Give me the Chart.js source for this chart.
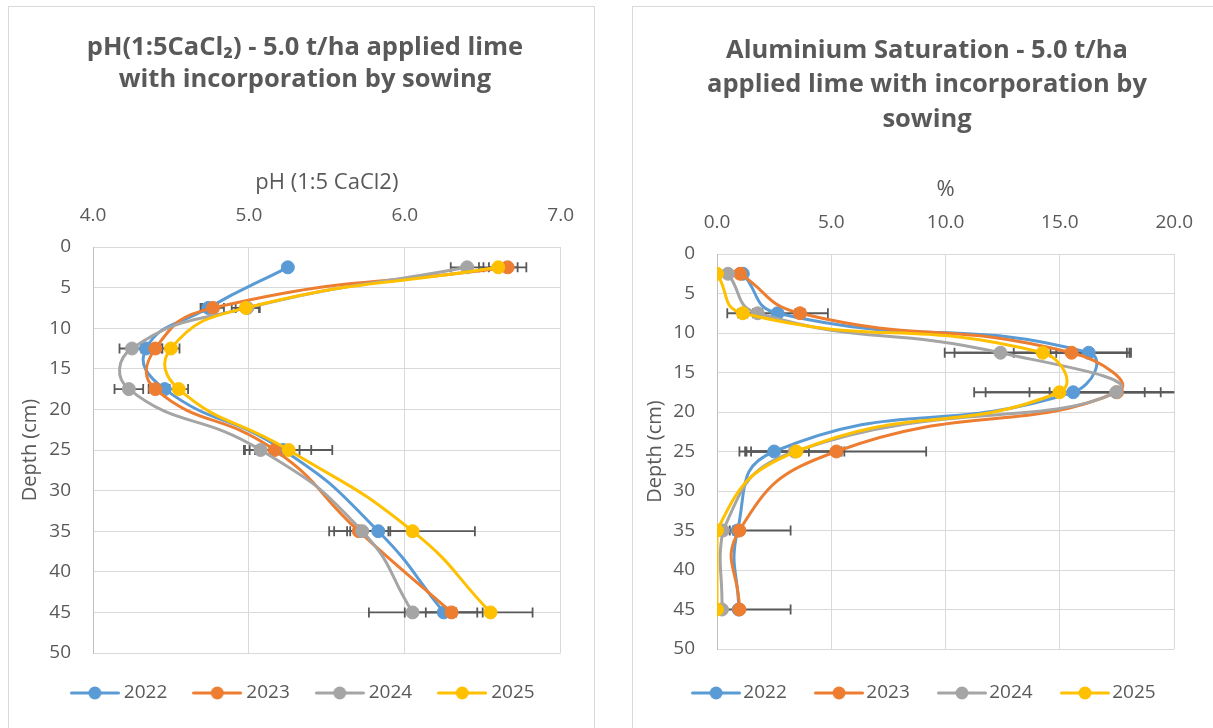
<!DOCTYPE html>
<html><head><meta charset="utf-8">
<script src="https://cdn.jsdelivr.net/npm/chart.js@4.4.1/dist/chart.umd.min.js"></script>
<style>
html,body{margin:0;padding:0;background:#fff;overflow:hidden;width:1213px;height:728px;}
.panel{position:absolute;border:1px solid #d9d9d9;box-sizing:border-box;}
canvas{position:absolute;}
</style></head><body>
<div class="panel" style="left:8px;top:6px;width:587px;height:740px"></div>
<div class="panel" style="left:632px;top:6px;width:600px;height:740px"></div>
<canvas id="c1" width="585" height="721" style="left:9px;top:7px"></canvas>
<canvas id="c2" width="580" height="721" style="left:633px;top:7px"></canvas>
<script>
// ---- data ----
const years = ['2022', '2023', '2024', '2025'];
const depths = [2.5, 7.5, 12.5, 17.5, 25, 35, 45];

const ph2022 = [5.25, 4.74, 4.34, 4.46, 5.22, 5.83, 6.25];
const ph2023 = [6.66, 4.77, 4.40, 4.40, 5.165, 5.705, 6.30];
const ph2024 = [6.40, 4.99, 4.25, 4.23, 5.075, 5.727, 6.05];
const ph2025 = [6.60, 4.98, 4.50, 4.55, 5.255, 6.05, 6.55];

const phErr2022 = [0, 0.05, 0.03, 0.03, 0.18, 0.20, 0.25];
const phErr2023 = [0.12, 0.07, 0.04, 0.043, 0.16, 0.19, 0.165];
const phErr2024 = [0.105, 0.075, 0.08, 0.092, 0.107, 0.18, 0.28];
const phErr2025 = [0.124, 0.09, 0.055, 0.06, 0.28, 0.40, 0.27];

const al2022 = [1.13, 2.65, 16.26, 15.58, 2.50, 0.90, 0.95];
const al2023 = [1.01, 3.63, 15.51, 17.50, 5.22, 0.98, 0.98];
const al2024 = [0.48, 1.78, 12.40, 17.46, 3.40, 0.26, 0.22];
const al2025 = [0.00, 1.13, 14.25, 14.98, 3.47, 0.00, 0.00];

const alErr2022 = [0, 2.2, 1.67, 3.83, 1.52, 0.2, 0.1];
const alErr2023 = [0, 0.2, 2.53, 2.95, 3.93, 2.24, 2.24];
const alErr2024 = [0, 0.2, 2.44, 3.79, 2.17, 0.3, 0.1];
const alErr2025 = [0, 0.2, 3.86, 3.73, 1.98, 0, 0];

const phTicks = [4, 5, 6, 7];
const alTicks = [0, 5, 10, 15, 20];
const depthTicks = [0, 5, 10, 15, 20, 25, 30, 35, 40, 45, 50];

const colors = ['#5B9BD5', '#ED7D31', '#A5A5A5', '#FFC000'];
const FONT = "'Open Sans', sans-serif";
const TXT = '#595959';

function legendIcon(color) {
  const c = document.createElement('canvas');
  c.width = 50; c.height = 14;
  const g = c.getContext('2d');
  g.strokeStyle = color; g.lineWidth = 3; g.lineCap = 'round';
  g.beginPath(); g.moveTo(1.5, 7); g.lineTo(48.5, 7); g.stroke();
  g.fillStyle = color; g.beginPath(); g.arc(25, 7, 6.5, 0, Math.PI * 2); g.fill();
  return c;
}
const icons = colors.map(legendIcon);

const errorBars = {
  id: 'errorBars',
  beforeDatasetsDraw(chart) {
    const ctx = chart.ctx, xs = chart.scales.x, ys = chart.scales.y, a = chart.chartArea;
    ctx.save();
    ctx.beginPath(); ctx.rect(a.left, a.top, a.right - a.left, a.bottom - a.top); ctx.clip();
    ctx.strokeStyle = '#595959'; ctx.lineWidth = 1.8;
    chart.data.datasets.forEach((ds) => {
      ds.errors.forEach((e, i) => {
        if (!e) return;
        const v = ds.data[i];
        const y = ys.getPixelForValue(v.y);
        const x1 = xs.getPixelForValue(v.x - e), x2 = xs.getPixelForValue(v.x + e);
        ctx.beginPath();
        ctx.moveTo(x1, y); ctx.lineTo(x2, y);
        ctx.moveTo(x1, y - 5); ctx.lineTo(x1, y + 5);
        ctx.moveTo(x2, y - 5); ctx.lineTo(x2, y + 5);
        ctx.stroke();
      });
    });
    ctx.restore();
  }
};

function makeChart(id, cfg) {
  const datasets = cfg.series.map((vals, i) => ({
    label: years[i],
    data: vals.map((v, j) => ({ x: v, y: depths[j] })),
    errors: cfg.errors[i],
    showLine: true,
    borderColor: colors[i],
    backgroundColor: colors[i],
    pointBackgroundColor: colors[i],
    pointBorderColor: colors[i],
    borderWidth: 3,
    pointRadius: 6.5,
    pointBorderWidth: 1,
    tension: 0.5,
    order: 3 - i
  }));
  return new Chart(document.getElementById(id), {
    type: 'scatter',
    data: { datasets },
    plugins: [errorBars],
    options: {
      responsive: false,
      animation: false,
      devicePixelRatio: 1,
      layout: { padding: { top: 0, left: cfg.padLeft, right: 0, bottom: cfg.padBottom } },
      plugins: {
        tooltip: { enabled: false },
        title: {
          display: true, text: cfg.title, color: TXT,
          font: { family: FONT, size: 25.5, weight: 'bold', lineHeight: cfg.titleLH + 'px' },
          padding: { top: cfg.titleTop, bottom: cfg.titleBottom }
        },
        legend: {
          position: 'bottom',
          labels: {
            color: TXT, font: { family: FONT, size: 19 },
            usePointStyle: true, pointStyleWidth: cfg.boxW, padding: cfg.legendPad,
            generateLabels: (chart) => chart.data.datasets.map((ds, i) => ({
              text: ds.label, fillStyle: colors[i], strokeStyle: colors[i], lineWidth: 0,
              pointStyle: icons[i], hidden: false, datasetIndex: i, fontColor: TXT
            }))
          }
        }
      },
      scales: {
        x: {
          type: 'linear', position: 'top', min: cfg.xTicks[0], max: cfg.xTicks[cfg.xTicks.length - 1],
          afterBuildTicks: (s) => { s.ticks = cfg.xTicks.map(v => ({ value: v })); },
          afterFit: (s) => { s.height = cfg.xHeight; },
          ticks: { color: TXT, font: { family: FONT, size: 19 }, padding: 20, callback: (v) => Number(v).toFixed(1), maxRotation: 0 },
          grid: { color: '#d9d9d9', lineWidth: 1, drawTicks: false },
          border: { color: '#d9d9d9' },
          title: { display: true, text: cfg.xTitle, color: TXT, font: { family: FONT, size: 22 }, padding: { top: cfg.xTitleTop, bottom: 0 } }
        },
        y: {
          type: 'linear', position: 'left', reverse: true, min: 0, max: 50,
          afterBuildTicks: (s) => { s.ticks = depthTicks.map(v => ({ value: v })); },
          afterFit: (s) => { s.width = 84 - cfg.padLeft; },
          ticks: { color: TXT, font: { family: FONT, size: 19 }, padding: 22 },
          grid: { color: '#d9d9d9', lineWidth: 1, drawTicks: false },
          border: { color: '#bfbfbf' },
          title: { display: true, text: 'Depth (cm)', color: TXT, font: { family: FONT, size: 20 }, padding: { top: cfg.yTitleTop, bottom: 0 } }
        }
      }
    }
  });
}

makeChart('c1', {
  title: ['pH(1:5CaCl\u2082) - 5.0 t/ha applied lime', 'with incorporation by sowing'],
  titleLH: 32, titleTop: 25, titleBottom: 61,
  xTitle: 'pH (1:5 CaCl2)', xTitleTop: 13, xHeight: 90,
  xTicks: phTicks,
  series: [ph2022, ph2023, ph2024, ph2025],
  errors: [phErr2022, phErr2023, phErr2024, phErr2025],
  padLeft: 7, yTitleTop: 2, padBottom: 15.5, legendPad: 30.5, boxW: 39
});

makeChart('c2', {
  title: ['Aluminium Saturation - 5.0 t/ha', 'applied lime with incorporation by', 'sowing'],
  titleLH: 34.5, titleTop: 26, titleBottom: 20.5,
  xTitle: '%', xTitleTop: 20, xHeight: 97,
  xTicks: alTicks,
  series: [al2022, al2023, al2024, al2025],
  errors: [alErr2022, alErr2023, alErr2024, alErr2025],
  padLeft: 8, yTitleTop: 2, padBottom: 15.5, legendPad: 34.5, boxW: 35.5
});
</script>
</body></html>
